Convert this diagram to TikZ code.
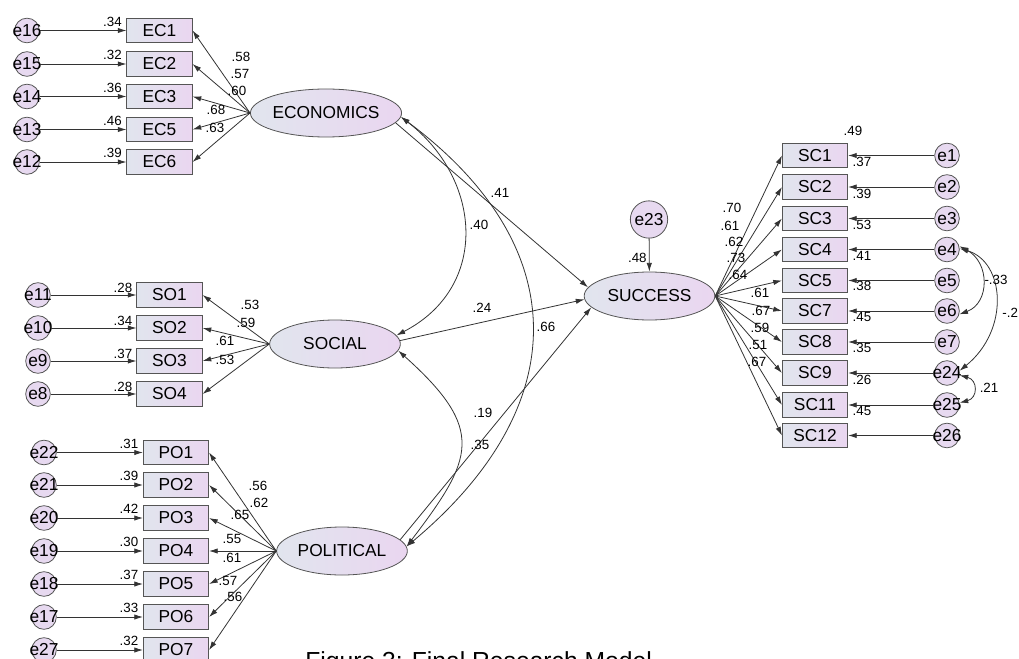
\documentclass[tikz,border=0pt]{standalone}
\usepackage{fontspec}
\setmainfont{Liberation Sans}
\usepackage{tikz}
\usetikzlibrary{arrows.meta,shapes.geometric}

\definecolor{boxleft}{HTML}{E1E5EE}
\definecolor{boxright}{HTML}{EAD6F0}
\definecolor{errfill}{HTML}{E7D9F0}
\definecolor{edgegray}{HTML}{555555}
\definecolor{linegray}{HTML}{333333}

\newcommand{\lblfont}{\fontsize{13}{15}\selectfont}
\newcommand{\valfont}{\fontsize{10}{12}\selectfont}
\newcommand{\capfont}{\fontsize{18.5}{22}\selectfont}

\begin{document}
\begin{tikzpicture}[x=0.75pt,y=-0.75pt,>={Latex[length=6.5pt,width=4pt]},line width=0.6pt,
    obs/.style={draw=edgegray,left color=boxleft,right color=boxright,minimum width=49pt,minimum height=18.5pt,inner sep=0pt,font=\lblfont},
    lat/.style={ellipse,draw=edgegray,left color=boxleft,right color=boxright,minimum width=98pt,minimum height=36pt,inner sep=0pt,font=\lblfont},
    err/.style={circle,draw=edgegray,fill=errfill,minimum size=18.5pt,inner sep=0pt},
    val/.style={font=\valfont,inner sep=0pt},
    arr/.style={draw=linegray,->}]

\useasboundingbox (0,0) rectangle (1019,659);
\clip (0,0) rectangle (1019,659);

% ---------- latent variables ----------
\node[lat] (econ) at (326,113) {ECONOMICS};
\node[lat] (social) at (335,344) {SOCIAL};
\node[lat] (political) at (342,551) {POLITICAL};
\node[lat] (success) at (649.5,296) {SUCCESS};

% ---------- ECONOMICS ----------
\foreach \n/\y/\e/\r/\l/\lx/\ly in {1/30.5/16/.34/.58/241/57, 2/64/15/.32/.57/240/74,
    3/96.5/14/.36/.60/237/91, 5/129.5/13/.46/.68/216/110, 6/162/12/.39/.63/215/128}{
    \node[obs] (ec\n) at (159.5,\y) {EC\n};
    \node[err,label={[font=\lblfont]center:e\e}] (e\e) at (27,\y) {};
    \draw[arr] (e\e) -- (ec\n);
    \node[val] (r2ec\n) at (112.5,\y-9) {\r};
    \draw[arr] (econ.west) -- (ec\n.east);
    \node[val] (ldec\n) at (\lx,\ly) {\l};
}

% ---------- SOCIAL ----------
\foreach \n/\y/\e/\r/\l/\lx/\ly in {1/295/11/.28/.53/250/305, 2/328/10/.34/.59/246/323,
    3/361/9/.37/.61/225/341, 4/394/8/.28/.53/225/360}{
    \node[obs] (so\n) at (169.5,\y) {SO\n};
    \node[err,label={[font=\lblfont]center:e\e}] (e\e) at (38,\y) {};
    \draw[arr] (e\e) -- (so\n);
    \node[val] (r2so\n) at (123,\y-7) {\r};
    \draw[arr] (social.west) -- (so\n.east);
    \node[val] (ldso\n) at (\lx,\ly) {\l};
}

% ---------- POLITICAL ----------
\foreach \n/\y/\e/\r/\l/\lx/\ly in {1/452.5/22/.31/.56/258/486, 2/485/21/.39/.62/259/503,
    3/518/20/.42/.65/240/515, 4/551/19/.30/.55/232/539, 5/584/18/.37/.61/232/558,
    6/617/17/.33/.57/228/581, 7/650/27/.32/.56/233/597}{
    \node[obs] (po\n) at (176,\y) {PO\n};
    \node[err,label={[font=\lblfont]center:e\e}] (e\e) at (44,\y) {};
    \draw[arr] (e\e) -- (po\n);
    \node[val] (r2po\n) at (129,\y-9) {\r};
    \draw[arr] (political.west) -- (po\n.east);
    \node[val] (ldpo\n) at (\lx,\ly) {\l};
}

% ---------- SUCCESS ----------
\node[err,minimum size=28pt,label={[font=\lblfont]center:e23}] (e23) at (649,219.5) {};
\draw[arr] (e23) -- (success);
\node[val,anchor=east] (r2succ) at (647,258) {.48};

\foreach \n/\y/\e/\r/\rx/\l/\lx/\ly in {1/155.5/1/.49/853/.70/732/208, 2/187/2/.37/862/.61/730/226,
    3/218.5/3/.39/862/.62/734/242, 4/249.5/4/.53/862/.73/736/258, 5/280.5/5/.41/862/.64/738/275,
    7/311/6/.38/862/.61/760/293, 8/342/7/.45/862/.67/761/311, 9/373/24/.35/862/.59/760/328,
    11/405/25/.26/862/.51/758/345, 12/435.5/26/.45/862/.67/757/362}{
    \node[obs] (sc\n) at (815,\y) {SC\n};
    \node[err,label={[font=\lblfont]center:e\e}] (e\e) at (947,\y) {};
    \draw[arr] (e\e) -- (sc\n);
    \node[val] (r2sc\n) at (\rx,\y-25) {\r};
    \draw[arr] (success.east) -- (sc\n.west);
    \node[val] (ldsc\n) at (\lx,\ly) {\l};
}

% ---------- structural paths ----------
\draw[arr] (econ.-8) -- (success.172);
\draw[arr] (social.3) -- (success.183);
\draw[arr] (political.11) -- (success.191);
\node[val] (b1) at (500,193) {.41};
\node[val] (b2) at (482,308) {.24};
\node[val] (b3) at (483,413) {.19};

% ---------- covariances ----------
\draw[linegray,<->] (econ.-3) .. controls (482,179) and (490,287) .. (social.8);
\draw[linegray,<->] (econ.-3) .. controls (572,244) and (577,404) .. (political.4);
\draw[linegray,<->] (social.-6) .. controls (487,430) and (473,459) .. (political.4);
\node[val] (c1) at (479,225) {.40};
\node[val] (c2) at (546,327) {.66};
\node[val] (c3) at (480,445) {.35};

\draw[linegray,<->] (e4.15) .. controls (990,262) and (990,303) .. (e6.-15);
\draw[linegray,<->] (e4.5) .. controls (1005,262) and (1010,330) .. (e24.10);
\draw[linegray,<->] (e24.-10) .. controls (978,380) and (978,398) .. (e25.10);
\node[val] (c4) at (996,280) {-.33};
\node[val,anchor=west] (c5) at (1002,313) {-.2};
\node[val] (c6) at (989,388) {.21};

% ---------- caption ----------
\node[anchor=base west,inner sep=0pt,font=\capfont] (caption) at (305,669) {Figure 3: Final Research Model};

\end{tikzpicture}
\end{document}
